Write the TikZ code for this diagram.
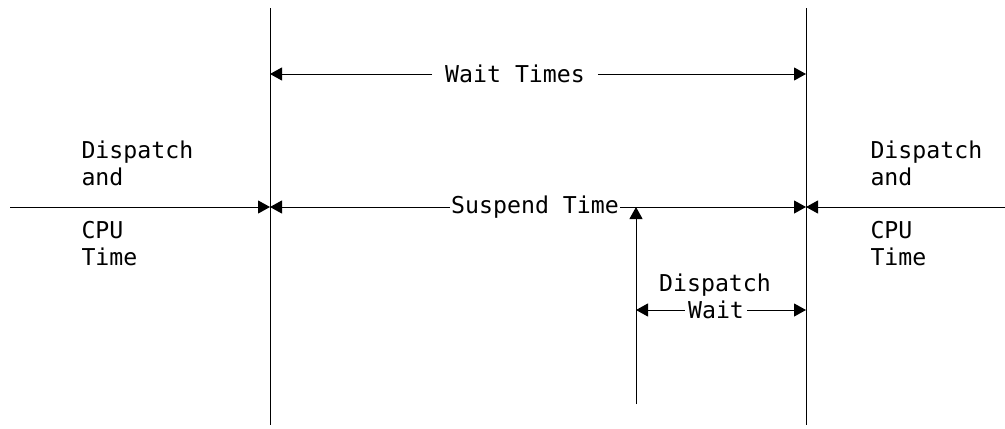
\documentclass[tikz,border=0pt]{standalone}
\usepackage{fontspec}
\setmonofont{DejaVu Sans Mono}
\usetikzlibrary{arrows.meta,positioning}

\tikzset{
  lbl/.style={font=\ttfamily\fontsize{11.6}{13.5}\selectfont,inner sep=0pt,align=left},
  tip/.style={-{Triangle[length=6pt,width=6.5pt]}},
}

\begin{document}
\begin{tikzpicture}[x=0.5pt,y=-0.5pt,line width=0.5pt]
		\useasboundingbox (0,0) rectangle (1005,428);
		% boundaries of the suspend period
		\coordinate (lt) at (270,8);
		\coordinate (lb) at (270,425);
		\coordinate (rt) at (806,8);
		\coordinate (rb) at (806,425);
		\draw (lt) -- (lb);
		\draw (rt) -- (rb);
		% wait times
		\node[lbl,inner xsep=6.25pt] (wt) at (515,74) {Wait Times};
		\coordinate (wtl) at (270,74);
		\coordinate (wtr) at (806,74);
		\draw[tip] (wt.west) -- (wtl);
		\draw[tip] (wt.east) -- (wtr);
		% suspend time
		\node[lbl,inner xsep=0.5pt] (st) at (535,207) {Suspend Time};
		\coordinate (sl) at (270,207);
		\coordinate (sr) at (806,207);
		\draw[tip] (st.west) -- (sl);
		\draw[tip] (st.east) -- (sr);
		\coordinate (inl) at (10,207);
		\coordinate (inr) at (1005,207);
		\draw[tip] (inl) -- (sl);
		\draw[tip] (inr) -- (sr);
		% dispatch wait
		\coordinate (dwb) at (636,404);
		\coordinate (dwt) at (636,207);
		\draw[tip] (dwb) -- (dwt);
		\node[lbl,inner xsep=1.5pt] (dw) at (716,310) {Wait};
		\node[lbl,anchor=base] (dwh) at (715,291) {Dispatch};
		\coordinate (dwl) at (636,310);
		\coordinate (dwr) at (806,310);
		\draw[tip] (dw.west) -- (dwl);
		\draw[tip] (dw.east) -- (dwr);
		% dispatch and cpu time
		\node[lbl,anchor=north west] (dl) at (81,140) {Dispatch\\and};
		\node[lbl,anchor=north west] (cl) at (81,221) {CPU\\Time};
		\node[lbl,anchor=north west] (dr) at (870,140) {Dispatch\\and};
		\node[lbl,anchor=north west] (cr) at (870,221) {CPU\\Time};
	\end{tikzpicture}
\end{document}
